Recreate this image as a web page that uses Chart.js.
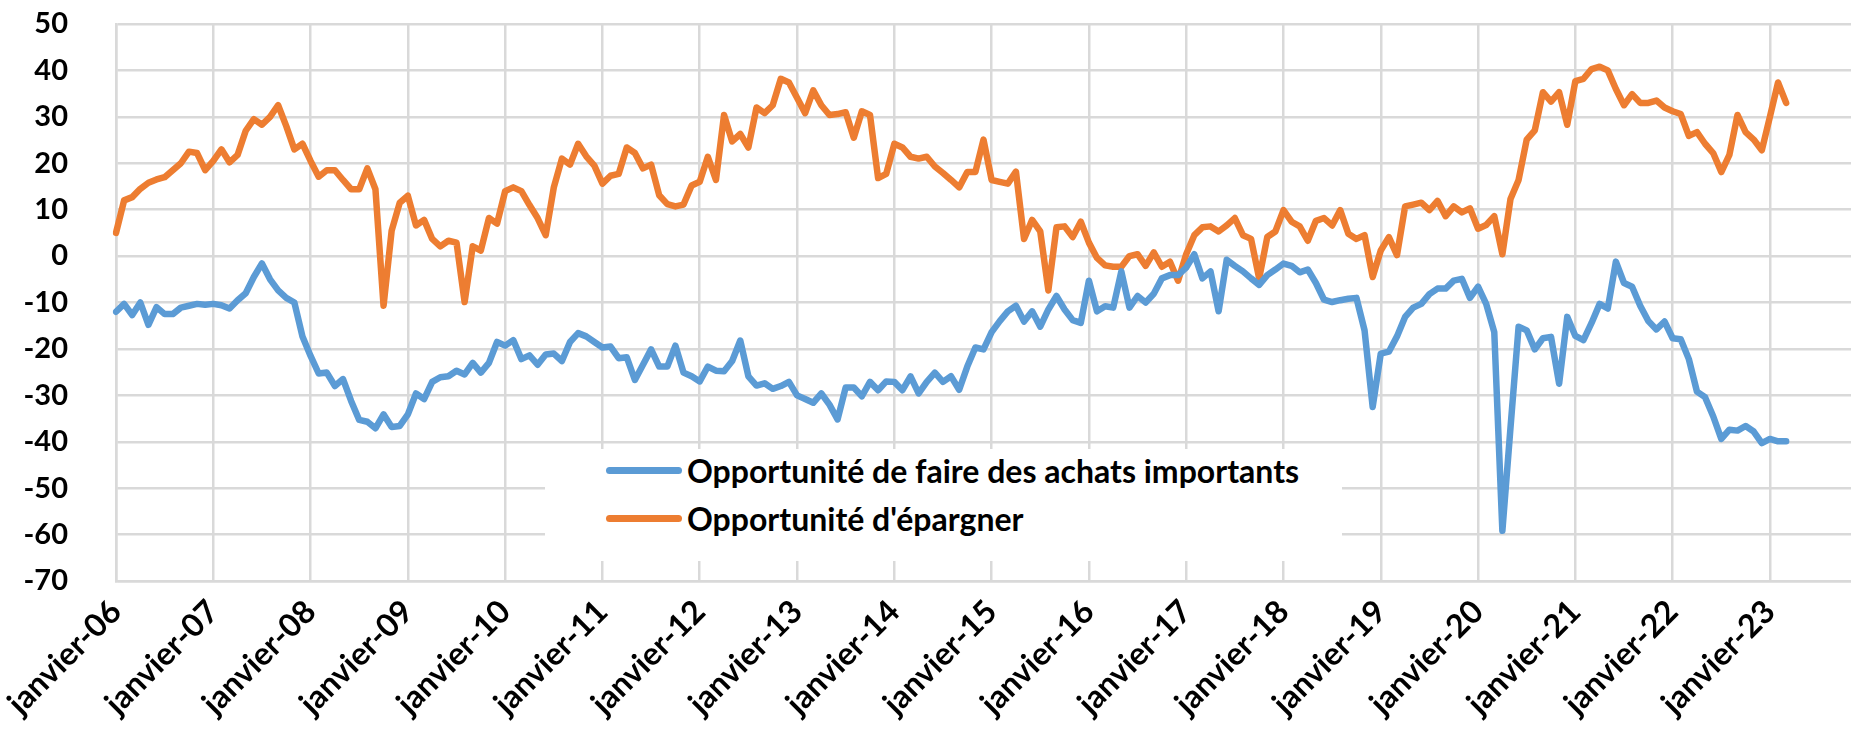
<!DOCTYPE html>
<html lang="fr">
<head>
<meta charset="utf-8">
<script src="https://cdn.jsdelivr.net/npm/chart.js@4.4.1/dist/chart.umd.min.js"></script>
<style>
  html, body { margin: 0; padding: 0; background: #fff; }
  #wrap { position: relative; width: 1851px; height: 732px; }
  #legende {
    position: absolute; left: 545px; top: 449px; width: 797px; height: 112px;
    background: #fff; font: bold 32px Lato, sans-serif; color: #000;
  }
  #legende .item { position: absolute; left: 61px; height: 40px; display: flex; align-items: center; white-space: nowrap; }
  #legende .trait { width: 76px; height: 7px; border-radius: 4px; margin-right: 5px; }
</style>
</head>
<body>
<div id="wrap">
  <canvas id="graphique" width="1851" height="732"></canvas>
  <div id="legende"></div>
</div>
<script>
const moisNoms = ['janvier', 'février', 'mars', 'avril', 'mai', 'juin', 'juillet', 'août', 'septembre', 'octobre', 'novembre', 'décembre'];
const anneeDebut = 2006;
const nbMoisAxe = 215; // janvier-06 .. novembre-23 (axe prolongé au-delà des données)

const nomsSeries = ['Opportunité de faire des achats importants', "Opportunité d'épargner"];

// Solde d'opinion mensuel, janvier-06 à mars-23
const achatsImportants = [
  -12, -10.3, -12.7, -10, -14.8, -11, -12.5, -12.5, -11.1, -10.7, -10.3, -10.5,
  -10.3, -10.6, -11.3, -9.5, -8, -4.5, -1.6, -5, -7.4, -9, -10, -17.3,
  -21.5, -25.3, -25.1, -28, -26.5, -31.2, -35.3, -35.7, -37.1, -34.1, -36.8, -36.6,
  -34.1, -29.6, -30.8, -27.1, -26.1, -25.9, -24.7, -25.5, -23, -25.1, -23, -18.5,
  -19.3, -18.1, -22.2, -21.4, -23.4, -21.2, -21, -22.6, -18.5, -16.6, -17.3, -18.5,
  -19.7, -19.5, -22, -21.8, -26.7, -23.4, -20.1, -23.8, -23.8, -19.3, -25.1, -25.9,
  -27, -23.8, -24.7, -24.8, -22.6, -18.2, -25.9, -27.9, -27.4, -28.6, -28, -27.1,
  -30, -30.8, -31.6, -29.6, -32, -35.2, -28.3, -28.3, -30.2, -27.1, -28.9, -27,
  -27.1, -28.9, -25.9, -29.6, -27.1, -25.1, -27.1, -25.9, -28.8, -23.8, -19.7, -20.1,
  -16.4, -14, -11.9, -10.7, -14.1, -11.9, -15.2, -11.5, -8.6, -11.5, -13.8, -14.4,
  -5.3, -11.9, -10.8, -11.1, -3.3, -11.1, -8.6, -10, -8.1, -4.8, -4.1, -4.1,
  -2.5, 0.4, -4.8, -3.3, -11.9, -0.8, -2.1, -3.3, -4.8, -6.2, -4.1, -2.9,
  -1.6, -2.1, -3.5, -2.9, -5.8, -9.4, -9.9, -9.5, -9.2, -9, -16, -32.5,
  -21, -20.6, -17.3, -13.1, -11.1, -10.3, -8.2, -7, -7, -5.3, -4.9, -9,
  -6.6, -10.3, -16.4, -59.2, -37, -15.2, -16, -20.1, -17.7, -17.4, -27.5, -13.1,
  -17.2, -18.1, -14.4, -10.3, -11.3, -1.2, -5.8, -6.6, -10.7, -14, -15.8, -14.1,
  -17.7, -17.9, -22.2, -29.2, -30.4, -34.5, -39.4, -37.4, -37.6, -36.6, -37.8, -40.3,
  -39.4, -39.9, -39.9
];

const epargner = [
  5, 12, 12.7, 14.5, 15.8, 16.5, 17, 18.5, 20, 22.5, 22.2, 18.5,
  20.5, 23, 20.2, 21.8, 27, 29.5, 28.3, 30, 32.5, 28, 23, 24.2,
  20.5, 17.1, 18.5, 18.5, 16.4, 14.4, 14.4, 18.9, 14.4, -10.7, 5.5, 11.5,
  13, 6.6, 7.8, 3.7, 2.1, 3.3, 2.9, -9.9, 2.1, 1.2, 8.2, 7,
  14, 14.8, 14, 11, 8.2, 4.5, 14.8, 21, 19.7, 24.2, 21.5, 19.5,
  15.6, 17.3, 17.7, 23.4, 22.2, 18.9, 19.7, 13.1, 11.2, 10.7, 11.1, 15.2,
  16, 21.4, 16.4, 30.4, 24.7, 26.3, 23.4, 32, 30.8, 32.5, 38.2, 37.4,
  34.1, 30.8, 35.7, 32.5, 30.4, 30.6, 31, 25.5, 31.2, 30.4, 16.8, 17.7,
  24.2, 23.4, 21.4, 21, 21.4, 19.3, 17.9, 16.4, 14.8, 18.1, 18.1, 25.1,
  16.4, 16, 15.6, 18.2, 3.7, 7.8, 5.3, -7.4, 6.2, 6.4, 4.1, 7.4,
  2.9, -0.4, -2, -2.3, -2.3, 0, 0.4, -2.1, 0.8, -2.3, -1.2, -5.3,
  0.4, 4.5, 6.2, 6.4, 5.3, 6.6, 8.2, 4.5, 3.7, -4.8, 4.1, 5.3,
  9.9, 7.4, 6.4, 3.3, 7.6, 8.2, 6.6, 9.9, 4.8, 3.7, 4.5, -4.5,
  1.2, 4.1, 0.2, 10.7, 11.1, 11.5, 9.9, 11.9, 8.6, 10.7, 9.4, 10.3,
  5.9, 6.7, 8.6, 0.4, 12.3, 16.4, 25.1, 27.1, 35.3, 33.3, 35.3, 28.3,
  37.7, 38.2, 40.3, 40.8, 40, 36, 32.5, 34.9, 33, 33, 33.5, 32,
  31.2, 30.6, 25.9, 26.7, 24.2, 22.2, 18.1, 21.8, 30.4, 26.7, 25.1, 22.8,
  30, 37.4, 33
];

const mois = [];
for (let i = 0; i < nbMoisAxe; i++) {
  const an = anneeDebut + Math.floor(i / 12);
  mois.push(moisNoms[i % 12] + '-' + String(an % 100).padStart(2, '0'));
}

const grille = '#d9d9d9';
const policeY = { family: 'Lato, sans-serif', size: 29, weight: 'bold', lineHeight: 1 };
const policeX = { family: 'Lato, sans-serif', size: 32, weight: 'bold', lineHeight: 1 };

const ctx = document.getElementById('graphique').getContext('2d');

const chart = new Chart(ctx, {
  type: 'line',
  data: {
    labels: mois,
    datasets: [{
      label: nomsSeries[0],
      data: achatsImportants,
      borderColor: '#5b9bd5',
      backgroundColor: '#5b9bd5',
      borderWidth: 6.5,
      pointRadius: 0,
      borderCapStyle: 'round',
      borderJoinStyle: 'round',
      tension: 0
    }, {
      label: nomsSeries[1],
      data: epargner,
      borderColor: '#ed7d31',
      backgroundColor: '#ed7d31',
      borderWidth: 6.5,
      pointRadius: 0,
      borderCapStyle: 'round',
      borderJoinStyle: 'round',
      tension: 0
    }]
  },
  options: {
    responsive: false,
    animation: false,
    layout: { padding: { top: 24, right: 0, left: 0, bottom: 0 } },
    plugins: {
      legend: { display: false },
      tooltip: { enabled: false }
    },
    scales: {
      x: {
        offset: false,
        grid: {
          color: c => (c.index % 12 === 0 ? grille : 'rgba(0,0,0,0)'),
          lineWidth: 2.5,
          drawTicks: false
        },
        border: { color: grille, width: 2.5 },
        ticks: {
          autoSkip: false,
          maxRotation: 45,
          minRotation: 45,
          padding: 14,
          color: '#000',
          font: policeX,
          callback: function (v, i) { return i % 12 === 0 ? this.getLabelForValue(v) : ''; }
        },
        afterFit: s => { s.height = 151; s.paddingLeft = 0; s.paddingRight = 0; }
      },
      y: {
        min: -70,
        max: 50,
        grid: { color: grille, lineWidth: 2.5, drawTicks: false },
        border: { color: grille, width: 2.5 },
        ticks: { stepSize: 10, padding: 48, color: '#000', font: policeY },
        afterFit: s => { s.width = 116; s.paddingTop = 0; s.paddingBottom = 0; }
      }
    }
  }
});

// légende en HTML, placée dans la zone du graphique
const legende = document.getElementById('legende');
chart.data.datasets.forEach((ds, i) => {
  const item = document.createElement('div');
  item.className = 'item';
  item.style.top = (1 + i * 48) + 'px';
  const trait = document.createElement('span');
  trait.className = 'trait';
  trait.style.background = ds.borderColor;
  const txt = document.createElement('span');
  txt.textContent = ds.label;
  item.appendChild(trait);
  item.appendChild(txt);
  legende.appendChild(item);
});
</script>
</body>
</html>
